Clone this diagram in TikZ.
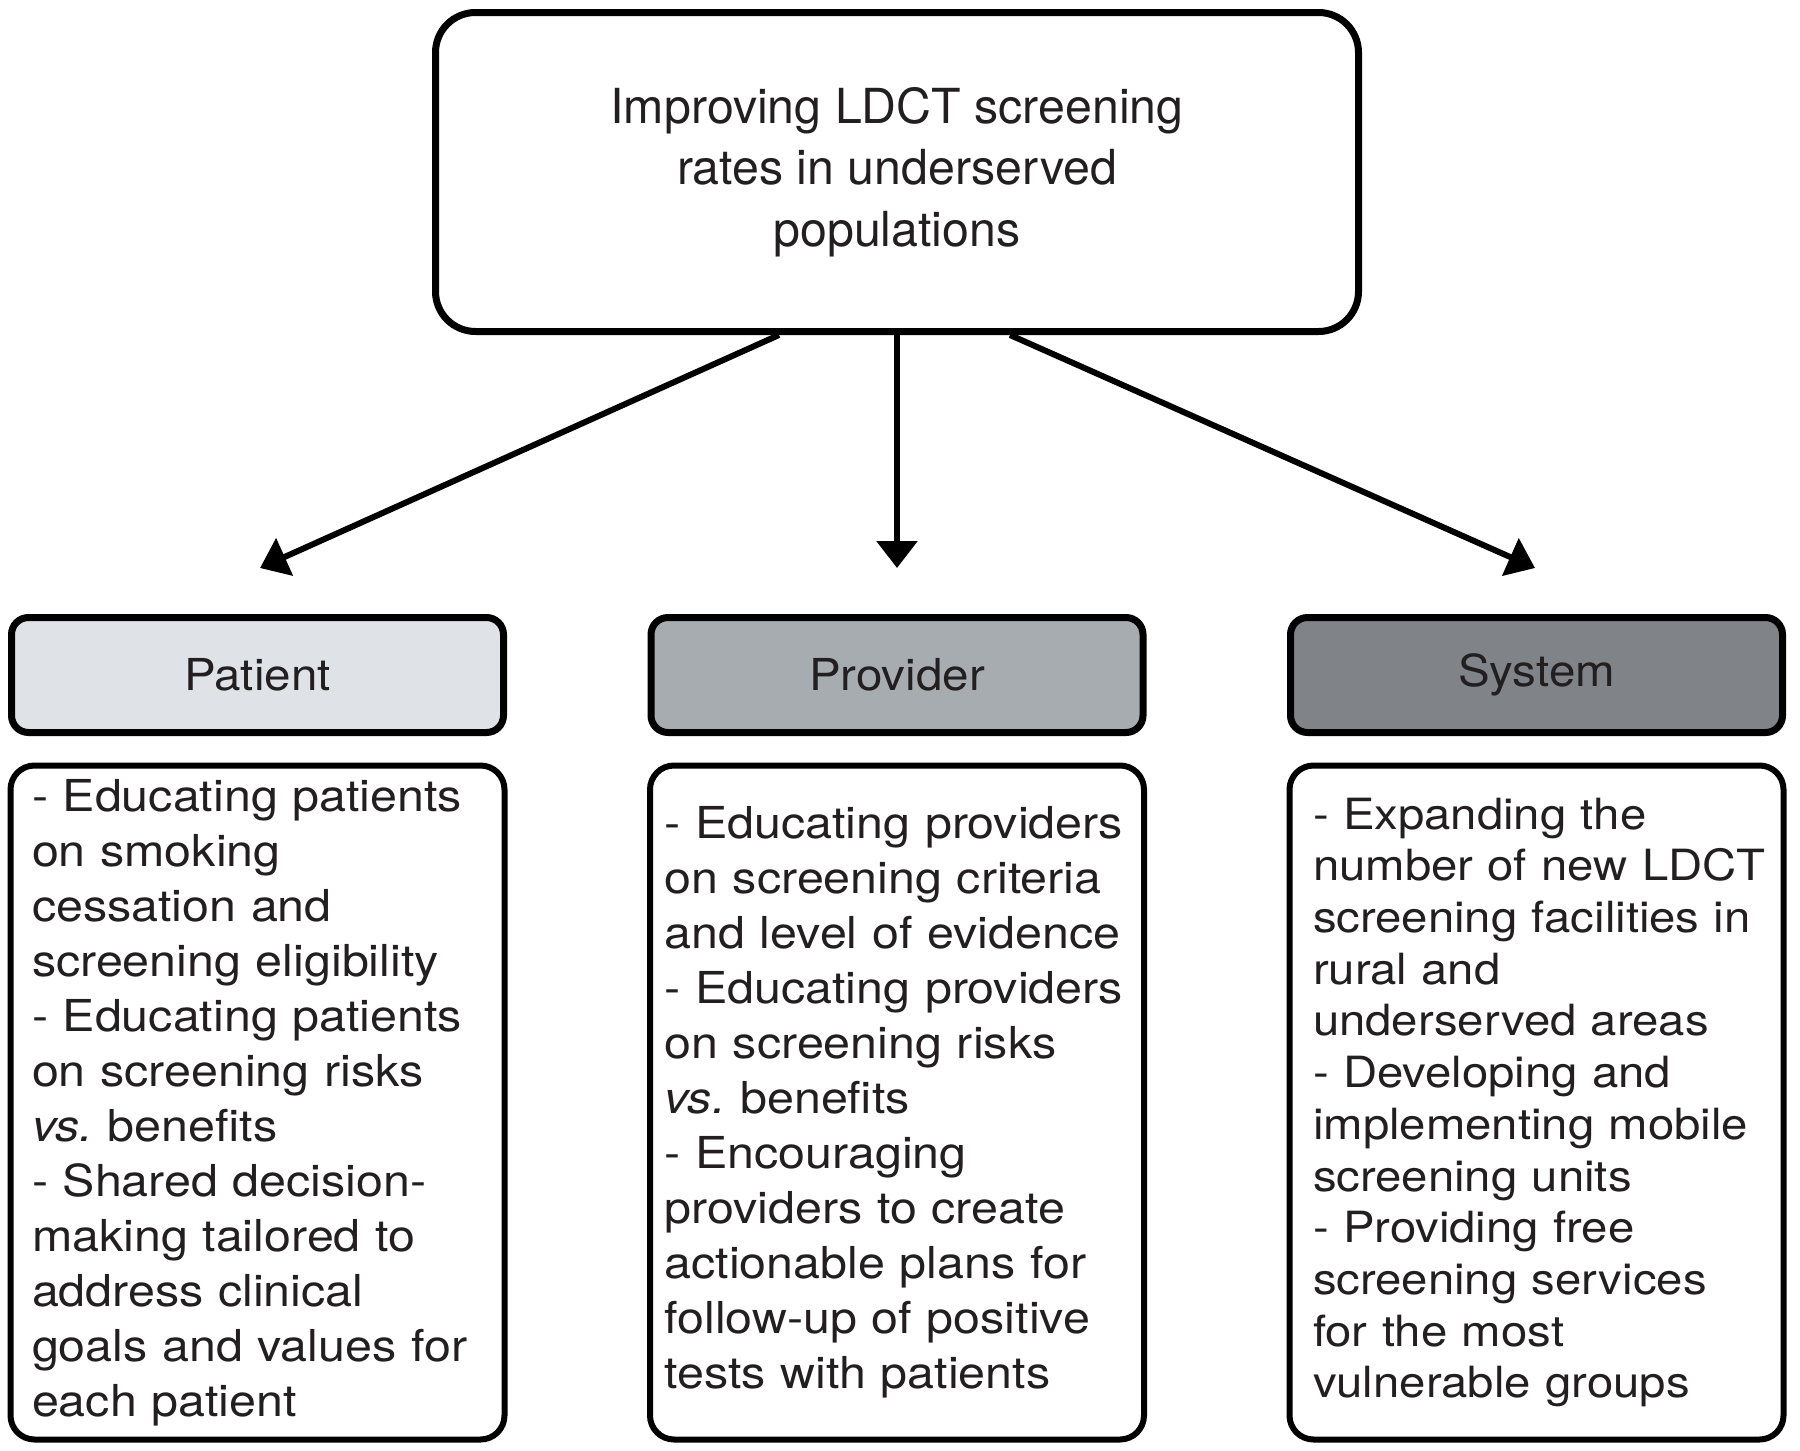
\documentclass[tikz,border=0pt]{standalone}
\usepackage{fontspec}
\setmainfont{TeX Gyre Heros}
\newfontfamily\bodyfont[FakeStretch=1.1]{TeX Gyre Heros}
\newfontfamily\headfont[FakeStretch=1.08]{TeX Gyre Heros}
\usetikzlibrary{arrows.meta}
\definecolor{ink}{HTML}{231F20}
\definecolor{patient-grey}{HTML}{DFE2E6}
\definecolor{provider-grey}{HTML}{A7ACB0}
\definecolor{system-grey}{HTML}{808488}

\begin{document}
\begin{tikzpicture}[x=1pt, y=-1pt,
    goalbox/.style={draw, line width=7pt, rounded corners=40pt, minimum width=923pt,
          minimum height=319pt, align=center, text=ink, font=\fontsize{48.3}{61.5}\selectfont},
    levelbox/.style={draw, line width=7pt, rounded corners=17pt, minimum width=492pt,
          minimum height=115pt, text=ink, font=\headfont\fontsize{44}{50}\selectfont},
    itembox/.style={draw, line width=6pt, rounded corners=24pt, minimum width=494pt,
          minimum height=674pt, align=left, text=ink},
    link/.style={line width=6pt, -{Triangle[length=27pt,width=40pt]}}]
    \useasboundingbox (0,0) rectangle (1800,1451);
    \node[goalbox] (goal) at (897,172)
          {Improving LDCT screening\\ rates in underserved\\ populations};
    \node[levelbox, fill=patient-grey] (patient) at (257.5,675) {Patient};
    \node[levelbox, fill=provider-grey] (provider) at (897,675) {Provider};
    \node[levelbox, fill=system-grey] (system) at (1536.5,675) {System};
    \node[itembox, text width=451pt, font=\bodyfont\fontsize{44}{55}\selectfont]
          (patient-items) at (257.5,1102.5)
          {- Educating patients\\ on smoking\\ cessation and\\ screening eligibility\\
           - Educating patients\\ on screening risks\\ \textit{vs.}\ benefits\\
           - Shared decision-\\ making tailored to\\ address clinical\\
           goals and values for\\ each patient};
    \node[itembox, text width=465pt, font=\bodyfont\fontsize{44}{55}\selectfont]
          (provider-items) at (897,1102.5)
          {- Educating providers\\ on screening criteria\\ and level of evidence\\
           - Educating providers\\ on screening risks\\ \textit{vs.}\ benefits\\
           - Encouraging\\ providers to create\\ actionable plans for\\
           follow-up of positive\\ tests with patients};
    \node[itembox, text width=447pt, font=\bodyfont\fontsize{43}{51.7}\selectfont]
          (system-items) at (1536.5,1102.5)
          {- Expanding the\\ number~of~new~LDCT\\ screening~facilities~in\\ rural and\\
           underserved areas\\ - Developing and\\ implementing mobile\\
           screening units\\ - Providing free\\ screening services\\
           for the most\\ vulnerable groups};
    \coordinate (patient-tip) at (260,568);
    \coordinate (provider-tip) at (897,568);
    \coordinate (system-tip) at (1535,568);
    \draw[link] ([xshift=-118pt]goal.south) -- (patient-tip);
    \draw[link] (goal.south) -- (provider-tip);
    \draw[link] ([xshift=113pt]goal.south) -- (system-tip);
\end{tikzpicture}
\end{document}
